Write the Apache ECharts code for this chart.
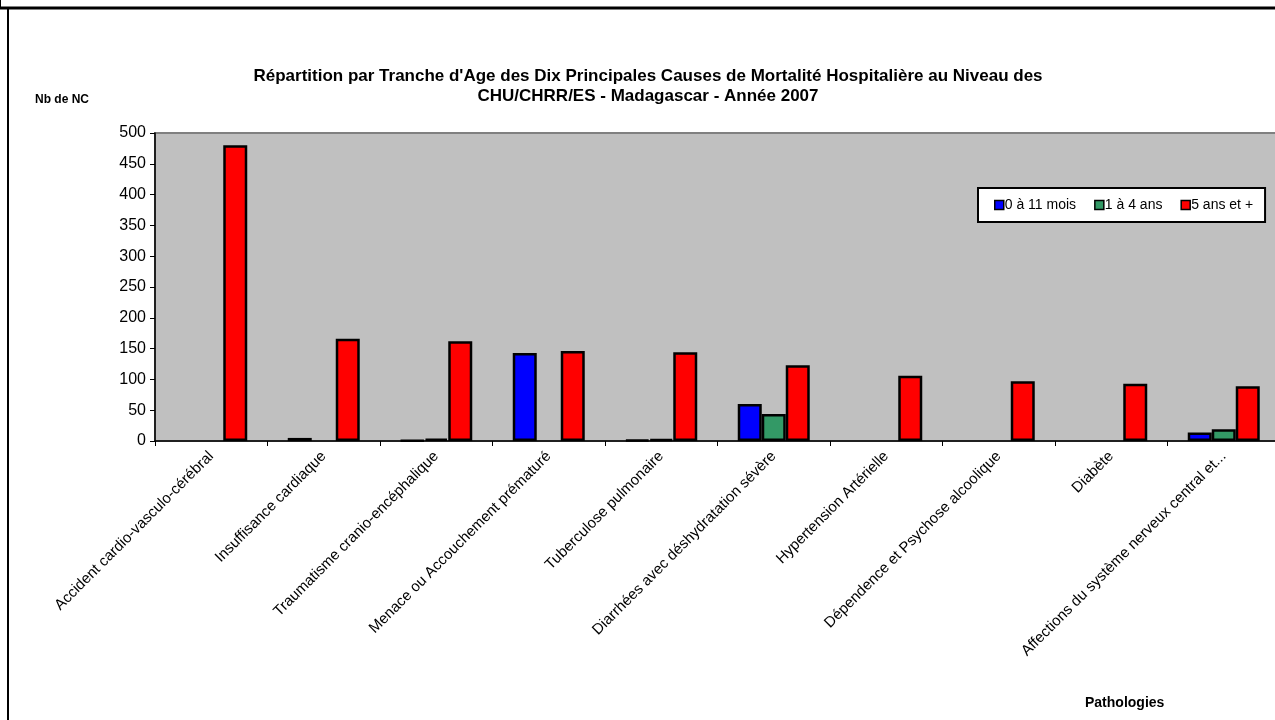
<!DOCTYPE html>
<html>
<head>
<meta charset="utf-8">
<script src="https://cdn.jsdelivr.net/npm/echarts@6/dist/echarts.min.js"></script>
<style>
  html, body { margin: 0; padding: 0; background: #fff; }
  #chart { width: 1275px; height: 720px; }
</style>
</head>
<body>
<div id="chart"></div>
<script>
// pathologies (categories)
var pathologies = [
  'Accident cardio-vasculo-cérébral',
  'Insuffisance cardiaque',
  'Traumatisme cranio-encéphalique',
  'Menace ou Accouchement prématuré',
  'Tuberculose pulmonaire',
  'Diarrhées avec déshydratation sévère',
  'Hypertension Artérielle',
  'Dépendence et Psychose alcoolique',
  'Diabète',
  'Affections du système nerveux central et...'
];
// nombre de cas par tranche d'age (null = pas de barre)
var mois0_11 = [null, 5, 1, 143, 2, 60, null, null, null, 14];
var ans1_4   = [null, null, 4, null, 3, 44, null, null, null, 19];
var ans5plus = [480, 166, 162, 146, 144, 123, 106, 97, 93, 89];
var yTicks = { min: 0, max: 500, interval: 50 };

var font = 'Arial, "Liberation Sans", sans-serif';
var chart = echarts.init(document.getElementById('chart'));

function serie(name, color, data) {
  return {
    name: name,
    type: 'bar',
    data: data,
    barWidth: 24,
    barGap: '0%',
    itemStyle: { color: color, borderColor: '#000', borderWidth: 2.5 },
    emphasis: { disabled: true }
  };
}

var option = {
  animation: false,
  backgroundColor: '#fff',
  title: {
    text: "Répartition par Tranche d'Age des Dix Principales Causes de Mortalité Hospitalière au Niveau des\nCHU/CHRR/ES - Madagascar - Année 2007",
    left: 643,
    textAlign: 'center',
    top: 61,
    textStyle: { fontFamily: font, fontSize: 17, fontWeight: 'bold', color: '#000', lineHeight: 20 }
  },
  legend: {
    left: 978,
    top: 188,
    width: 288,
    padding: [10, 12, 10, 16],
    backgroundColor: '#fff',
    borderColor: '#000',
    borderWidth: 2,
    itemWidth: 9,
    itemHeight: 9,
    itemGap: 18,
    icon: 'rect',
    textStyle: { fontFamily: font, fontSize: 14, color: '#000', padding: [0, 0, 0, -4] },
    itemStyle: { borderColor: '#000', borderWidth: 1.5 },
    data: ['0 à 11 mois', '1 à 4 ans', '5 ans et +']
  },
  grid: {
    left: 155,
    top: 133,
    width: 1125,
    height: 308,
    show: true,
    backgroundColor: '#C0C0C0',
    borderColor: '#808080',
    borderWidth: 2,
    outerBoundsMode: 'none'
  },
  xAxis: {
    type: 'category',
    data: pathologies,
    axisLine: { lineStyle: { color: '#000', width: 1.5 } },
    axisTick: { show: true, length: 5, lineStyle: { color: '#000' } },
    axisLabel: {
      interval: 0,
      rotate: 45,
      margin: 13,
      fontFamily: font,
      fontSize: 15,
      color: '#000'
    }
  },
  yAxis: {
    type: 'value',
    min: yTicks.min,
    max: yTicks.max,
    interval: yTicks.interval,
    axisLine: { show: true, lineStyle: { color: '#000', width: 1.5 } },
    axisTick: { show: true, length: 5, lineStyle: { color: '#000' } },
    splitLine: { show: false },
    axisLabel: { fontFamily: font, fontSize: 16, color: '#000', margin: 9 }
  },
  graphic: [
    { type: 'line', shape: { x1: 0, y1: 8, x2: 1275, y2: 8 }, style: { stroke: '#000', lineWidth: 3 } },
    { type: 'line', shape: { x1: 8, y1: 8, x2: 8, y2: 720 }, style: { stroke: '#000', lineWidth: 2 } },
    { type: 'line', shape: { x1: 0.5, y1: 0, x2: 0.5, y2: 8 }, style: { stroke: '#000', lineWidth: 1 } },
    {
      type: 'text', left: 35, top: 94,
      style: { text: 'Nb de NC', font: 'bold 12px ' + font, fill: '#000' }
    },
    {
      type: 'text', left: 1085, top: 696,
      style: { text: 'Pathologies', font: 'bold 14px ' + font, fill: '#000' }
    }
  ],
  series: [
    serie('0 à 11 mois', '#0000FF', mois0_11),
    serie('1 à 4 ans', '#339966', ans1_4),
    serie('5 ans et +', '#FF0000', ans5plus)
  ]
};
chart.setOption(option);
</script>
</body>
</html>
